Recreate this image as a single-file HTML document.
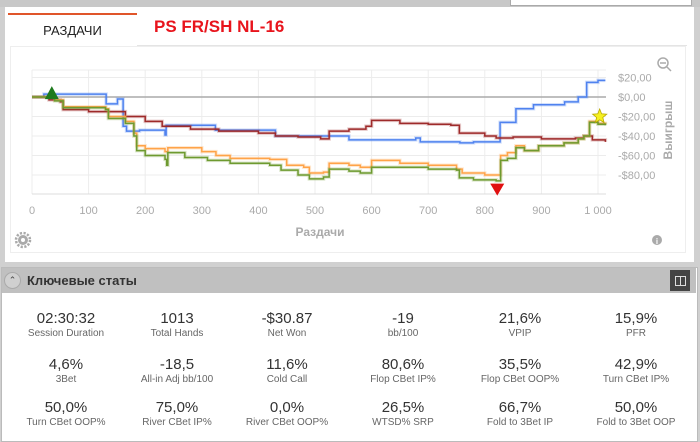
<!DOCTYPE html>
<html><head><meta charset="utf-8"><style>
body{margin:0;width:700px;height:442px;background:#d0d0d0;font-family:"Liberation Sans","DejaVu Sans",sans-serif;position:relative;overflow:hidden}
.abs{position:absolute}
.stat{position:absolute;width:114px;text-align:center;color:#333}
.stat .v{font-size:15px;font-family:"Liberation Sans Narrow","Liberation Sans",sans-serif;color:#333}
.stat .l{font-size:10px;color:#666;margin-top:1px}
</style></head><body>
<div class="abs" style="left:0;top:0;width:700px;height:7px;background:#c8c8c8"></div>
<div class="abs" style="left:510px;top:-2px;width:180px;height:6px;background:#fff;border:1px solid #aaa"></div>
<div class="abs" style="left:5px;top:7px;width:689px;height:255px;background:#fff"></div>
<div class="abs" style="left:8px;top:13px;width:129px;height:32px;border-top:2px solid #e0552a;text-align:center;line-height:32px;font-size:13px;color:#222">РАЗДАЧИ</div>
<div class="abs" style="left:137px;top:45px;width:550px;height:1px;background:#e4e4e4"></div>
<div class="abs" style="left:154px;top:17px;font-size:17px;font-weight:bold;color:#e8141c">PS FR/SH NL-16</div>
<div class="abs" style="left:10px;top:46px;width:674px;height:205px;border:1px solid #eee"></div>
<svg class="abs" style="left:0;top:0" width="700" height="262">
<g id="grid"></g><g id="lines"></g><g id="marks"></g>
<text x="320" y="236" text-anchor="middle" font-size="12" font-weight="bold" fill="#aaa">Раздачи</text>
<text transform="translate(672,130) rotate(-90)" text-anchor="middle" font-size="12" font-weight="bold" fill="#aaa">Выигрыш</text>
<g stroke="#aaa" stroke-width="1.5" fill="none"><circle cx="663" cy="63" r="5"/><line x1="667" y1="67" x2="671" y2="71"/><line x1="660" y1="63" x2="666" y2="63"/></g>
<g><circle cx="23" cy="240" r="5" fill="#aaa"/><circle cx="23" cy="240" r="7" fill="none" stroke="#aaa" stroke-width="2.5" stroke-dasharray="2.2 1.5"/><circle cx="23" cy="240" r="2" fill="#fff"/></g>
<g><circle cx="657" cy="240" r="5" fill="#aaa"/><text x="657" y="244" text-anchor="middle" font-size="8" font-weight="bold" fill="#fff">i</text></g>
</svg>
<div class="abs" style="left:1px;top:267px;width:695px;height:173px;background:#fff;border:1px solid #bbb"></div>
<div class="abs" style="left:2px;top:268px;width:694px;height:25px;background:#c0c0c0"></div>
<div class="abs" style="left:4px;top:272px;width:15px;height:15px;border:1px solid #aaa;border-radius:50%;background:#d0d0d0;font-size:9px;text-align:center;line-height:15px;color:#444">⌃</div>
<div class="abs" style="left:27px;top:273px;font-size:13px;font-weight:bold;color:#333">Ключевые статы</div>
<div class="abs" style="left:670px;top:270px;width:20px;height:21px;background:#444"><div style="position:absolute;left:5px;top:6px;width:9px;height:8px;border:1px solid #ddd"></div><div style="position:absolute;left:10px;top:6px;width:1px;height:10px;background:#ddd"></div></div>
<div id="stats"></div>
<script>
const NS='http://www.w3.org/2000/svg';
const xTicks=[0,100,200,300,400,500,600,700,800,900,1000];
const xTickLabels=['0','100','200','300','400','500','600','700','800','900','1 000'];
const yTicks=[20,0,-20,-40,-60,-80];
const yTickLabels=['$20,00','$0,00','-$20,00','-$40,00','-$60,00','-$80,00'];
const blueHands=[0,21,131,151,161,167,190,235,237,324,430,560,678,686,756,780,827,855,886,941,965,980,1000,1013];
const blueVals=[0,3,-7,-2,-30,-35,-34,-39,-29,-34,-40,-44,-42,-46,-47,-46,-26,-12,-8,-5,0,15,17,17];
const redHands=[0,30,50,55,100,165,200,230,280,330,400,430,470,510,525,560,590,600,650,700,740,755,800,820,850,900,960,975,990,1013];
const redVals=[0,-3,-5,-13,-15,-20,-25,-30,-33,-35,-37,-40,-41,-43,-35,-33,-30,-24,-27,-28,-29,-37,-40,-42,-41,-43,-42,-40,-44,-46];
const orangeHands=[0,40,55,130,135,165,180,185,200,235,240,300,325,350,420,450,480,490,515,525,560,580,600,650,700,750,760,800,828,840,855,870,895,940,965,975,985,1000,1013];
const orangeVals=[0,-3,-10,-12,-20,-25,-37,-50,-53,-56,-52,-56,-60,-63,-64,-70,-72,-78,-77,-68,-70,-72,-65,-68,-70,-74,-78,-80,-60,-57,-50,-55,-50,-47,-43,-40,-25,-27,-28];
const greenHands=[0,40,55,130,135,165,180,185,200,235,238,240,270,310,350,420,440,470,490,515,525,560,580,600,650,700,750,755,780,820,828,840,855,870,895,940,965,975,985,1000,1013];
const greenVals=[0,-4,-11,-13,-22,-27,-40,-55,-60,-64,-70,-57,-62,-65,-68,-70,-75,-80,-84,-82,-74,-76,-78,-72,-72,-74,-75,-83,-85,-86,-65,-63,-52,-55,-50,-47,-43,-40,-26,-28,-29];
const markerHands=[35,822,1003];
const markerVals=[4,-94,-20];
const statValues=['02:30:32','1013','-$30.87','-19','21,6%','15,9%','4,6%','-18,5','11,6%','80,6%','35,5%','42,9%','50,0%','75,0%','0,0%','26,5%','66,7%','50,0%'];
const statLabels=['Session Duration','Total Hands','Net Won','bb/100','VPIP','PFR','3Bet','All-in Adj bb/100','Cold Call','Flop CBet IP%','Flop CBet OOP%','Turn CBet IP%','Turn CBet OOP%','River CBet IP%','River CBet OOP%','WTSD% SRP','Fold to 3Bet IP','Fold to 3Bet OOP'];

const X=h=>32+h*0.566, Y=v=>97-v*0.975;
const PL=32,PR=606,PT=70,PB=194;
const grid=document.getElementById('grid');
function el(tag,attrs,parent){const e=document.createElementNS(NS,tag);for(const k in attrs)e.setAttribute(k,attrs[k]);parent.appendChild(e);return e;}
xTicks.forEach((t,i)=>{
  const g=el('line',{x1:X(t),x2:X(t),y1:PT,y2:PB,stroke:'#ececec'},grid);
  
  
  const tx=el('text',{x:X(t),y:214,'text-anchor':'middle','font-size':11,fill:'#aaa'},grid);
  tx.textContent=xTickLabels[i];
  
  
});
yTicks.forEach((t,i)=>{
  const g=el('line',{x1:PL,x2:PR,y1:Y(t),y2:Y(t),stroke:t===0?'#aaa':'#ececec','stroke-width':t===0?1.5:1},grid);
  
  
  const tx=el('text',{x:618,y:Y(t)+4,'font-size':11,fill:'#aaa'},grid);
  tx.textContent=yTickLabels[i];
  
  
});
el('line',{x1:PL,x2:PR,y1:PB,y2:PB,stroke:'#ddd'},grid);
el('line',{x1:PL,x2:PR,y1:PT,y2:PT,stroke:'#ececec'},grid);
const lines=document.getElementById('lines');
function series(h,v,color,name){
  let d='M'+X(h[0])+','+Y(v[0]);
  for(let i=1;i<h.length;i++){d+=' H'+X(h[i])+' V'+Y(v[i]);}
  const s=el('path',{d:d,fill:'none',stroke:color,'stroke-opacity':0.25,'stroke-width':3.5},lines);
  
  
  const p=el('path',{d:d,fill:'none',stroke:color,'stroke-width':1.5},lines);
  
  
}
series(blueHands,blueVals,'#4f82ef','blue-series');
series(redHands,redVals,'#9e2a2a','red-series');
series(orangeHands,orangeVals,'#ffa348','orange-series');
series(greenHands,greenVals,'#6e9a30','green-series');
const marks=document.getElementById('marks');
{const x=X(markerHands[0]),y=Y(markerVals[0]);
 const m=el('polygon',{points:`${x-7},${y+6} ${x+7},${y+6} ${x},${y-7}`,fill:'#1e7a1e'},marks);
 
 }
{const x=X(markerHands[1]),y=Y(markerVals[1]);
 const m=el('polygon',{points:`${x-7},${y-5} ${x+7},${y-5} ${x},${y+7}`,fill:'#e01010'},marks);
 
 }
{const x=X(markerHands[2]),y=Y(markerVals[2]);let pts=[];
 for(let i=0;i<10;i++){const r=i%2?3.3:7.5,a=-Math.PI/2+i*Math.PI/5;pts.push((x+r*Math.cos(a)).toFixed(1)+','+(y+r*Math.sin(a)).toFixed(1));}
 const m=el('polygon',{points:pts.join(' '),fill:'#f5f020',stroke:'#b8a800','stroke-width':0.8},marks);
 
 }
const st=document.getElementById('stats');
const cx=[66,177,287,403,520,636], rowY=[310,356,399];
statValues.forEach((v,i)=>{
  const d=document.createElement('div');d.className='stat';
  
  
  d.style.left=(cx[i%6]-57)+'px';d.style.top=rowY[Math.floor(i/6)]+'px';
  d.innerHTML='<div class="v">'+v+'</div><div class="l">'+statLabels[i]+'</div>';
  st.appendChild(d);
});
</script>
</body></html>
